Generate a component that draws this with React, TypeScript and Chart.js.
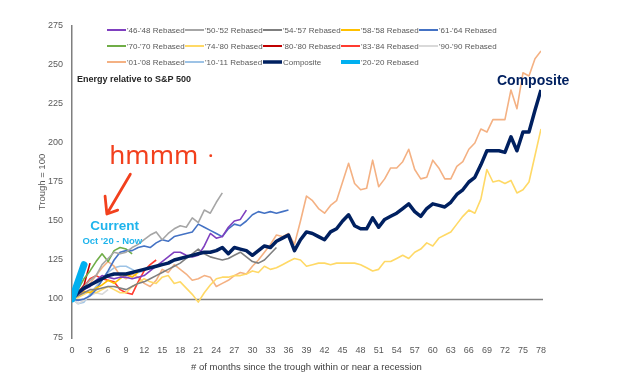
import React, { useEffect, useRef } from "react";
import { Chart, registerables } from "chart.js";

Chart.register(...registerables);

// ---------- data ----------
const seriesLabels = [
  "'46-'48 Rebased", "'50-'52 Rebased", "'54-'57 Rebased", "'58-'58 Rebased", "'61-'64 Rebased",
  "'70-'70 Rebased", "'74-'80 Rebased", "'80-'80 Rebased", "'83-'84 Rebased", "'90-'90 Rebased",
  "'01-'08 Rebased", "'10-'11 Rebased", "Composite", "'20-'20 Rebased",
];

const s4648 = [100,103,106,108,112,115,114,113,114,114,113,114,115,118,121,124,127,130,130,128,127,128,134,142,139,140,146,150,151,157];
const s5052 = [100,104,108,112,115,122,126,130,129,130,133,135,138,141,143,138,142,145,147,146,152,149,157,155,162,168];
const s5457 = [100,102,104,106,106,107,108,108,107,106,108,110,111,113,115,117,119,121,123,126,129,132,129,127,126,125,126,128,130,127,124,123,125,129,133];
const s5858 = [100,102,105,104,107,109,112,110,113,116,114,117];
const s6164 = [100,99,100,102,106,112,118,125,130,131,131,133,134,133,136,138,137,140,141,142,143,148,146,144,142,140,145,148,147,150,154,156,155,156,155,156,157];
const s7070 = [100,106,113,118,124,129,124,131,133,132,129];
const s7480 = [100,101,103,105,104,106,108,106,104,104,108,110,113,111,110,114,115,110,111,107,103,98,104,109,113,114,114,115,115,116,118,117,121,119,120,122,124,126,125,121,122,123,123,122,123,123,123,123,122,120,118,119,124,124,126,128,126,130,132,136,134,139,141,143,148,153,157,155,164,183,175,176,174,176,168,170,175,192,209];
const s8080 = [100,104,109,123];
const s8384 = [100,104,108,113,115,113,112,111,106,104,103,111,118,122,125];
const s9090 = [100,97,99,102,104,103,106];
const s0108 = [100,103,106,110,115,120,124,121,115,113,116,114,110,108,112,119,117,122,119,116,112,113,115,114,108,110,112,115,117,116,121,125,130,135,141,140,142,135,150,166,163,158,155,160,163,175,187,174,170,171,189,172,177,184,184,188,196,183,177,178,189,184,177,177,185,188,196,200,209,207,215,215,215,234,222,245,243,254,259];
const s1011 = [100,97,98,103,108,113,117,120,121,121,119,117,118];
const composite = [100,104,107,109,111,113,115,116,116,116,117,118,119,120,121,122,123,125,126,127,128,129,130,130,131,133,129,133,132,131,128,131,134,133,137,139,141,131,138,143,142,140,138,143,145,150,154,147,145,145,152,146,151,153,155,158,161,156,153,158,161,160,159,162,167,170,175,178,186,195,195,195,194,204,195,207,207,221,234];
const s2020 = [100,111,122];

const seriesValues = [s4648, s5052, s5457, s5858, s6164, s7070, s7480, s8080, s8384, s9090, s0108, s1011, composite, s2020];
const seriesColors = ["#7F3FBF", "#A6A6A6", "#7F7F7F", "#FFC000", "#4472C4", "#70AD47", "#FFD966", "#C00000", "#FF3B30", "#D9D9D9", "#F4B183", "#9DC3E6", "#002060", "#00B0F0"];

const yTicks = [75, 100, 125, 150, 175, 200, 225, 250, 275];
const xMin = 0;
const xMax = 78;
const xStep = 3;
const baseValue = 100;

const FONT = '"Liberation Sans Narrow", "Liberation Sans", Arial, sans-serif';

const overlayPlugin = {
  id: "overlay",
  beforeDatasetsDraw(chart: any) {
    const { ctx, scales } = chart;
    const x = scales.x, y = scales.y;
    ctx.save();
    ctx.strokeStyle = "#808080";
    ctx.lineWidth = 1.5;
    ctx.beginPath();
    const yy = Math.round(y.getPixelForValue(baseValue)) + 0.5;
    ctx.moveTo(x.getPixelForValue(xMin), yy);
    ctx.lineTo(x.getPixelForValue(xMax) + 2, yy);
    ctx.stroke();
    ctx.restore();
  },
  afterDraw(chart: any) {
    const { ctx, scales, chartArea } = chart;
    const x = scales.x, y = scales.y;
    ctx.save();
    // legend
    const ds = chart.data.datasets;
    ctx.font = `8px ${FONT}`;
    ctx.textBaseline = "middle";
    ctx.textAlign = "left";
    ds.forEach((d: any, i: number) => {
      const col = i % 5, row = Math.floor(i / 5);
      const lx = chartArea.left + 35 + col * 78;
      const ly = chartArea.top + 4 + row * 16;
      ctx.strokeStyle = d.borderColor;
      ctx.lineWidth = d.legendWidth;
      ctx.lineCap = "butt";
      ctx.beginPath();
      ctx.moveTo(lx, ly);
      ctx.lineTo(lx + 19, ly);
      ctx.stroke();
      ctx.fillStyle = "#595959";
      ctx.fillText(d.label, lx + 20, ly + 0.5);
    });
    // chart title
    ctx.fillStyle = "#262626";
    ctx.font = `bold 9px ${FONT}`;
    ctx.fillText("Energy relative to S&P 500", chartArea.left + 5, chartArea.top + 54);
    // Composite label
    ctx.fillStyle = "#002060";
    ctx.font = `bold 14px ${FONT}`;
    ctx.textAlign = "center";
    ctx.fillText("Composite", x.getPixelForValue(76.7), y.getPixelForValue(239.7));
    // Current
    ctx.fillStyle = "#1FB4EC";
    ctx.font = `bold 13.5px ${FONT}`;
    ctx.fillText("Current", x.getPixelForValue(7.1), y.getPixelForValue(146.8));
    ctx.font = `bold 9.5px ${FONT}`;
    ctx.fillText("Oct '20 - Now", x.getPixelForValue(6.7), y.getPixelForValue(137));
    // handwriting
    ctx.fillStyle = "#F2401D";
    ctx.strokeStyle = "#F2401D";
    ctx.textAlign = "left";
    ctx.textBaseline = "alphabetic";
    ctx.font = `26px "Noto Sans", sans-serif`;
    ctx.fillText("hmmm", x.getPixelForValue(6.2), y.getPixelForValue(186.5));
    ctx.font = `bold 16px "Noto Sans", sans-serif`;
    ctx.fillText(".", x.getPixelForValue(22.7), y.getPixelForValue(191));
    // arrow
    ctx.lineWidth = 2.8;
    ctx.lineCap = "round";
    ctx.lineJoin = "round";
    ctx.beginPath();
    ctx.moveTo(x.getPixelForValue(9.7), y.getPixelForValue(180));
    ctx.lineTo(x.getPixelForValue(5.8), y.getPixelForValue(154.5));
    ctx.moveTo(x.getPixelForValue(5.5), y.getPixelForValue(166));
    ctx.lineTo(x.getPixelForValue(5.8), y.getPixelForValue(154.5));
    ctx.lineTo(x.getPixelForValue(7.6), y.getPixelForValue(157));
    ctx.stroke();
    ctx.restore();
  },
};

export default function App() {
  const ref = useRef<HTMLCanvasElement | null>(null);
  useEffect(() => {
    if (!ref.current) return;
    const datasets = seriesLabels.map((label, i) => {
      const isComp = label === "Composite";
      const isCur = label === "'20-'20 Rebased";
      return {
        label,
        data: seriesValues[i].map((v, m) => ({ x: m, y: v })),
        borderColor: seriesColors[i],
        backgroundColor: seriesColors[i],
        borderWidth: isCur ? 7 : isComp ? 3.5 : 1.6,
        borderCapStyle: isCur ? "round" : "butt",
        borderJoinStyle: "round",
        pointRadius: 0,
        tension: 0,
        fill: false,
        order: isCur ? -2 : isComp ? -1 : i,
        legendWidth: isCur ? 4 : isComp ? 3.5 : 2,
      };
    });
    const chart = new Chart(ref.current, {
      type: "line",
      data: { datasets } as any,
      options: {
        responsive: false,
        animation: false,
        devicePixelRatio: 1,
        layout: { padding: { left: 0, top: 26, right: 99, bottom: 0 } },
        plugins: { legend: { display: false }, tooltip: { enabled: false }, title: { display: false } },
        scales: {
          x: {
            type: "linear",
            min: xMin,
            max: xMax,
            grid: { display: false, drawTicks: false },
            border: { display: false },
            ticks: { stepSize: xStep, autoSkip: false, maxRotation: 0, padding: 7, color: "#595959", font: { size: 9, family: FONT } },
            title: { display: true, text: "# of months since the trough within or near a recession", color: "#404040", font: { size: 9.5, family: FONT }, padding: { top: 0, bottom: 8 } },
            afterFit: (s: any) => { s.height = 43; },
          },
          y: {
            type: "linear",
            min: yTicks[0],
            max: yTicks[yTicks.length - 1],
            grid: { display: false, drawTicks: false },
            border: { display: true, color: "#7F7F7F", width: 1.5 },
            afterBuildTicks: (s: any) => { s.ticks = yTicks.map((v) => ({ value: v })); },
            ticks: { padding: 9, color: "#595959", font: { size: 9, family: FONT } },
            title: { display: true, text: "Trough = 100", color: "#595959", font: { size: 9.5, family: FONT }, padding: { top: 37, bottom: 0 } },
            afterFit: (s: any) => { s.width = 72; },
          },
        },
      } as any,
      plugins: [overlayPlugin],
    });
    return () => chart.destroy();
  }, []);
  return (
    <div style={{ position: "fixed", left: 0, top: 0, width: 640, height: 381, background: "#fff" }}>
      <canvas ref={ref} width={640} height={381} />
    </div>
  );
}
